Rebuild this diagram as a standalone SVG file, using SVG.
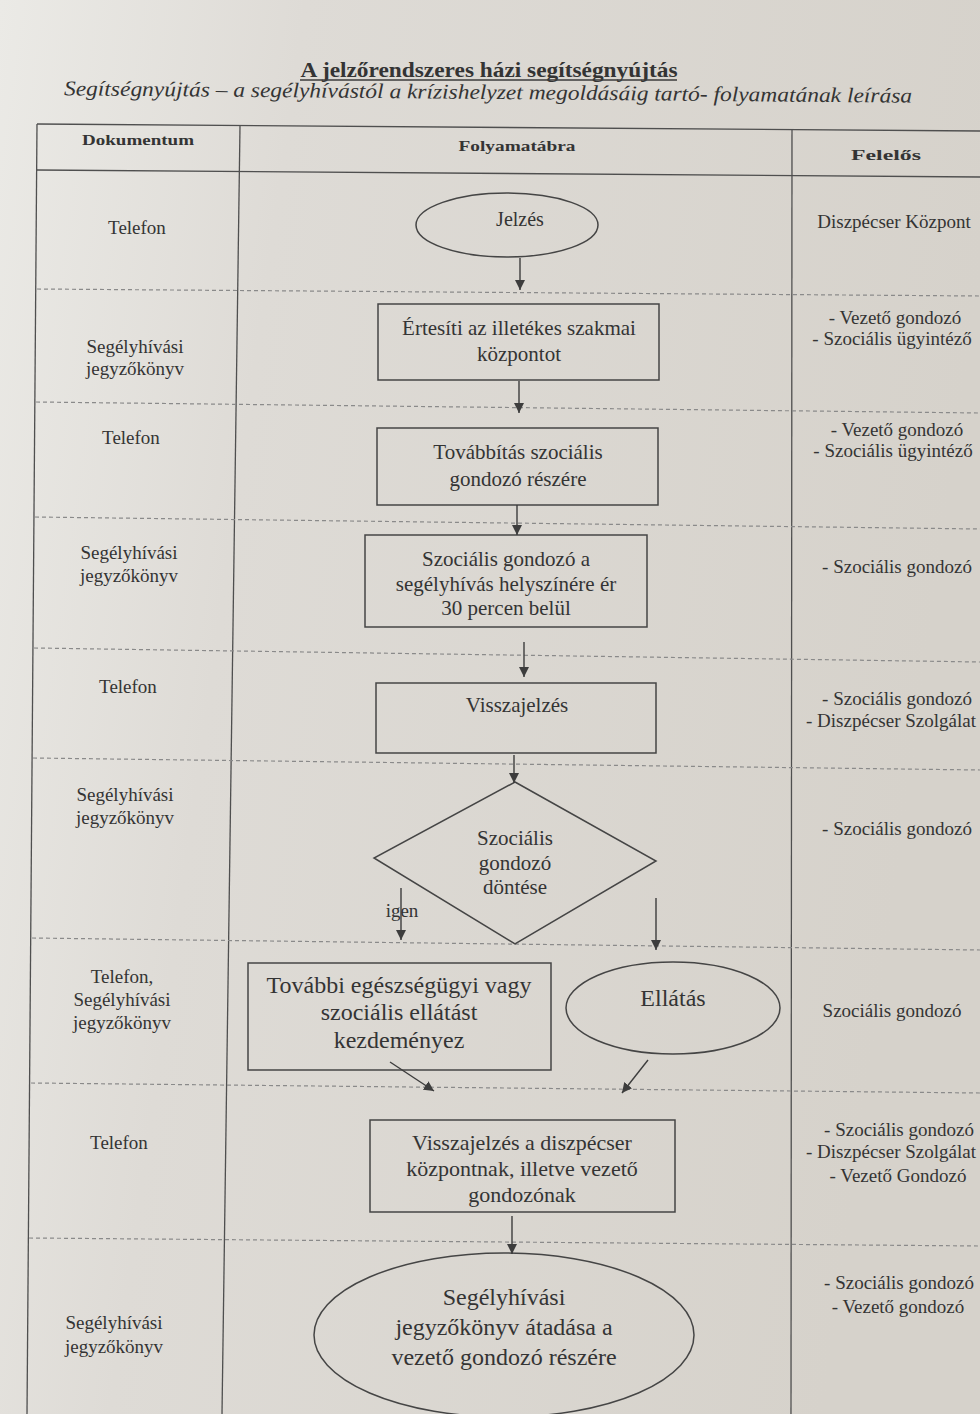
<svg xmlns="http://www.w3.org/2000/svg" width="980" height="1414" viewBox="0 0 980 1414">
<defs>
<linearGradient id="paper" x1="0" y1="0" x2="1" y2="0.2">
<stop offset="0" stop-color="#ebeae6"/>
<stop offset="0.3" stop-color="#dedbd6"/>
<stop offset="1" stop-color="#d6d2cb"/>
</linearGradient>
<marker id="ah" viewBox="0 0 10 10" refX="10" refY="5" markerWidth="10" markerHeight="10" markerUnits="userSpaceOnUse" orient="auto">
<path d="M0,0 L10,5 L0,10 z" fill="#3d3d3d"/>
</marker>
<style>
.t{font-family:"Liberation Serif","Times New Roman",serif;fill:#343434;text-anchor:middle}
.s19{font-size:19px}
.s21{font-size:21px}
.s22{font-size:22px}
.s24{font-size:24px}
.hb{font-weight:bold;font-size:15px}
.solid{stroke:#4f4f4f;stroke-width:1.3;fill:none}
.dash{stroke:#8a8a8a;stroke-width:1.2;stroke-dasharray:4 3;fill:none}
.shape{stroke:#454545;stroke-width:1.5;fill:none}
.conn{stroke:#3d3d3d;stroke-width:1.4;fill:none;marker-end:url(#ah)}
</style>
</defs>
<rect x="0" y="0" width="980" height="1414" fill="url(#paper)"/>

<g id="title">
<text class="t" x="489" y="77" style="font-size:21px;font-weight:bold" textLength="377" lengthAdjust="spacingAndGlyphs">A jelzőrendszeres házi segítségnyújtás</text>
<line x1="300" y1="80" x2="677" y2="80" stroke="#3b3b3b" stroke-width="1.3"/>
<text class="t" x="488" y="99" style="font-size:21px;font-style:italic" textLength="848" lengthAdjust="spacingAndGlyphs" transform="rotate(0.5 488 98)">Segítségnyújtás  – a segélyhívástól a krízishelyzet megoldásáig tartó- folyamatának leírása</text>
</g>

<g id="table">
<line class="solid" x1="37" y1="124" x2="980" y2="131"/>
<line class="solid" x1="37" y1="170" x2="980" y2="177"/>
<line class="solid" x1="37" y1="124" x2="27" y2="1414"/>
<line class="solid" x1="240" y1="126" x2="222" y2="1414"/>
<line class="solid" x1="792" y1="130" x2="791" y2="1414"/>
<line class="dash" x1="37" y1="289" x2="980" y2="296"/>
<line class="dash" x1="36" y1="402" x2="980" y2="413"/>
<line class="dash" x1="35" y1="517" x2="980" y2="529"/>
<line class="dash" x1="34" y1="648" x2="980" y2="662"/>
<line class="dash" x1="33" y1="758" x2="980" y2="770"/>
<line class="dash" x1="32" y1="938" x2="980" y2="950"/>
<line class="dash" x1="31" y1="1083" x2="980" y2="1093"/>
<line class="dash" x1="29" y1="1238" x2="980" y2="1246"/>
<text class="t hb" x="138" y="145" textLength="112" lengthAdjust="spacingAndGlyphs">Dokumentum</text>
<text class="t hb" x="517" y="151" textLength="117" lengthAdjust="spacingAndGlyphs">Folyamatábra</text>
<text class="t hb" x="886" y="160" textLength="70" lengthAdjust="spacingAndGlyphs">Felelős</text>
</g>

<g id="doc-col">
<text class="t s19" x="137" y="234">Telefon</text>
<text class="t s19" x="135" y="353">Segélyhívási</text>
<text class="t s19" x="135" y="375">jegyzőkönyv</text>
<text class="t s19" x="131" y="444">Telefon</text>
<text class="t s19" x="129" y="559">Segélyhívási</text>
<text class="t s19" x="129" y="582">jegyzőkönyv</text>
<text class="t s19" x="128" y="693">Telefon</text>
<text class="t s19" x="125" y="801">Segélyhívási</text>
<text class="t s19" x="125" y="824">jegyzőkönyv</text>
<text class="t s19" x="122" y="983">Telefon,</text>
<text class="t s19" x="122" y="1006">Segélyhívási</text>
<text class="t s19" x="122" y="1029">jegyzőkönyv</text>
<text class="t s19" x="119" y="1149">Telefon</text>
<text class="t s19" x="114" y="1329">Segélyhívási</text>
<text class="t s19" x="114" y="1353">jegyzőkönyv</text>
</g>

<g id="resp-col">
<text class="t s19" x="894" y="228">Diszpécser Központ</text>
<text class="t s19" x="895" y="324">- Vezető gondozó</text>
<text class="t s19" x="892" y="345">- Szociális ügyintéző</text>
<text class="t s19" x="897" y="436">- Vezető gondozó</text>
<text class="t s19" x="893" y="457">- Szociális ügyintéző</text>
<text class="t s19" x="897" y="573">- Szociális gondozó</text>
<text class="t s19" x="897" y="705">- Szociális gondozó</text>
<text class="t s19" x="891" y="727">- Diszpécser Szolgálat</text>
<text class="t s19" x="897" y="835">- Szociális gondozó</text>
<text class="t s19" x="892" y="1017">Szociális gondozó</text>
<text class="t s19" x="899" y="1136">- Szociális gondozó</text>
<text class="t s19" x="891" y="1158">- Diszpécser Szolgálat</text>
<text class="t s19" x="898" y="1182">- Vezető Gondozó</text>
<text class="t s19" x="899" y="1289">- Szociális gondozó</text>
<text class="t s19" x="898" y="1313">- Vezető gondozó</text>
</g>

<g id="n1">
<ellipse class="shape" cx="507" cy="225" rx="91" ry="32"/>
<text class="t" style="font-size:20px" x="520" y="226">Jelzés</text>
</g>
<g id="n2">
<rect class="shape" x="378" y="304" width="281" height="76"/>
<text class="t s21" x="519" y="335">Értesíti az illetékes szakmai</text>
<text class="t s21" x="519" y="361">központot</text>
</g>
<g id="n3">
<rect class="shape" x="377" y="428" width="281" height="77"/>
<text class="t s21" x="518" y="459">Továbbítás szociális</text>
<text class="t s21" x="518" y="486">gondozó részére</text>
</g>
<g id="n4">
<rect class="shape" x="365" y="535" width="282" height="92"/>
<text class="t s21" x="506" y="566">Szociális gondozó a</text>
<text class="t s21" x="506" y="591">segélyhívás helyszínére ér</text>
<text class="t s21" x="506" y="615">30 percen belül</text>
</g>
<g id="n5">
<rect class="shape" x="376" y="683" width="280" height="70"/>
<text class="t s21" x="517" y="712">Visszajelzés</text>
</g>
<g id="n6">
<polygon class="shape" points="515,782 656,861 515,944 374,858"/>
<text class="t s21" x="515" y="845">Szociális</text>
<text class="t s21" x="515" y="870">gondozó</text>
<text class="t s21" x="515" y="894">döntése</text>
</g>
<g id="n7">
<rect class="shape" x="248" y="963" width="303" height="107"/>
<text class="t s24" x="399" y="993">További egészségügyi vagy</text>
<text class="t s24" x="399" y="1020">szociális ellátást</text>
<text class="t s24" x="399" y="1048">kezdeményez</text>
</g>
<g id="n8">
<ellipse class="shape" cx="673" cy="1008" rx="107" ry="46"/>
<text class="t s24" x="673" y="1006">Ellátás</text>
</g>
<g id="n9">
<rect class="shape" x="370" y="1120" width="305" height="92"/>
<text class="t s22" x="522" y="1150">Visszajelzés a diszpécser</text>
<text class="t s22" x="522" y="1176">központnak, illetve vezető</text>
<text class="t s22" x="522" y="1202">gondozónak</text>
</g>
<g id="n10">
<ellipse class="shape" cx="504" cy="1335" rx="190" ry="82"/>
<text class="t s24" x="504" y="1305">Segélyhívási</text>
<text class="t s24" x="504" y="1335">jegyzőkönyv átadása a</text>
<text class="t s24" x="504" y="1365">vezető gondozó részére</text>
</g>

<g id="connectors">
<line class="conn" x1="520" y1="258" x2="520" y2="290"/>
<line class="conn" x1="519" y1="381" x2="519" y2="413"/>
<line class="conn" x1="517" y1="505" x2="517" y2="535"/>
<line class="conn" x1="524" y1="642" x2="524" y2="677"/>
<line class="conn" x1="514" y1="755" x2="514" y2="783"/>
<line class="conn" x1="401" y1="888" x2="401" y2="940"/>
<line class="conn" x1="656" y1="898" x2="656" y2="950"/>
<line class="conn" x1="390" y1="1062" x2="434" y2="1091"/>
<line class="conn" x1="648" y1="1060" x2="622" y2="1093"/>
<line class="conn" x1="512" y1="1216" x2="512" y2="1254"/>
<text class="t s19" x="402" y="917">igen</text>
</g>
</svg>
